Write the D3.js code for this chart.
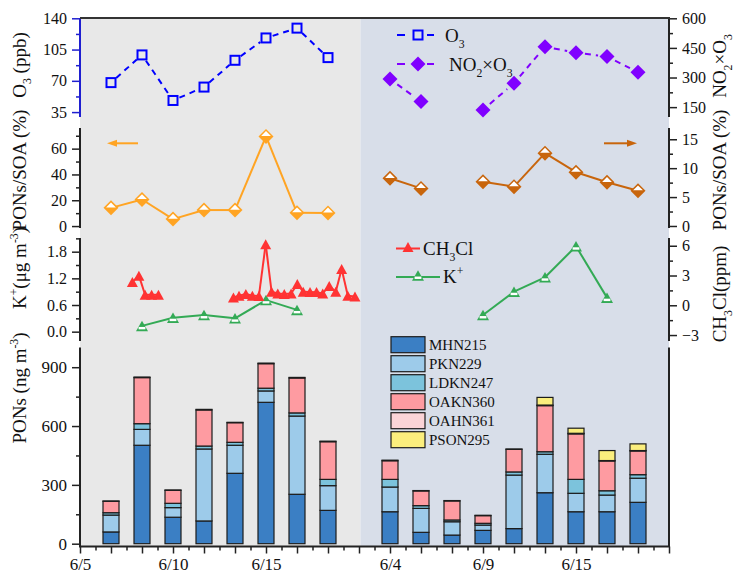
<!DOCTYPE html>
<html>
<head>
<meta charset="utf-8">
<script src="https://cdn.jsdelivr.net/npm/d3@7"></script>
<style>
  body { margin: 0; background: #fff; }
  svg text, svg tspan { font-family: "Liberation Serif", "Times New Roman", "DejaVu Serif", serif !important; fill: #111; }
</style>
</head>
<body>
<svg id="chart" width="734" height="574" font-family="Liberation Serif, serif"></svg>
<script>
// ---- x axis (sampling slots; two campaigns side by side) ----
const tickPos = [0, 3, 6, 10, 13, 16];
const tickLabels = ["6/5", "6/10", "6/15", "6/4", "6/9", "6/15"];

// ---- panel 1: O3 (left campaign) and NO2×O3 (right campaign) ----
const o3Pos = [1, 2, 3, 4, 5, 6, 7, 8];
const o3 = [68, 99, 48, 63, 93, 118, 129, 96];
const no2o3Pos = [10, 11, 13, 14, 15, 16, 17, 18];
const no2o3 = [292, 178, 136, 271, 456, 426, 406, 327];

// ---- panel 2: PONs/SOA (%) ----
const ratioLeftPos = [1, 2, 3, 4, 5, 6, 7, 8];
const ratioLeft = [14.1, 20.6, 5.4, 12.4, 12.4, 69.5, 10.3, 10.2];
const ratioRightPos = [10, 11, 13, 14, 15, 16, 17, 18];
const ratioRight = [8.25, 6.5, 7.66, 6.8, 12.6, 9.3, 7.56, 6.1];

// ---- panel 3: CH3Cl (high-resolution) and K+ ----
const ch3clPosA = [1.69, 1.9, 2.1, 2.31, 2.53];
const ch3clA = [1.12, 1.26, 0.83, 0.83, 0.83];
const ch3clPosB = [4.95, 5.13, 5.35, 5.56, 5.77, 5.99, 6.18, 6.38, 6.59, 6.81,
                   7.01, 7.2, 7.42, 7.63, 7.83, 8.04, 8.25, 8.44, 8.64, 8.87];
const ch3clB = [0.77, 0.81, 0.85, 0.81, 0.80, 1.97, 0.90, 0.86, 0.85, 0.86,
                1.07, 0.90, 0.89, 0.89, 0.86, 1.03, 0.90, 1.41, 0.81, 0.79];
const kLeftPos = [2, 3, 4, 5, 6, 7];
const kLeft = [0.13, 0.315, 0.375, 0.30, 0.71, 0.49];
const kRightPos = [13, 14, 15, 16, 17];
const kRight = [-0.98, 1.37, 2.82, 5.95, 0.77];

// ---- panel 4: PONs species (ng m-3), stacked ----
const barPos = [1, 2, 3, 4, 5, 6, 7, 8, 10, 11, 12, 13, 14, 15, 16, 17, 18];
const speciesNames = ["MHN215", "PKN229", "LDKN247", "OAKN360", "OAHN361", "PSON295"];
const MHN215  = [60, 502, 135, 116, 359, 721, 252, 170, 163, 58, 44, 68, 77, 260, 163, 163, 211];
const PKN229  = [86, 81, 49, 367, 143, 58, 399, 126, 126, 122, 68, 27, 273, 196, 94, 85, 123];
const LDKN247 = [12, 29, 22, 15, 15, 14, 16, 32, 39, 14, 9, 9, 16, 13, 71, 22, 18];
const OAKN360 = [58, 235, 66, 184, 100, 125, 178, 192, 95, 75, 97, 39, 115, 235, 232, 152, 121];
const OAHN361 = [2, 3, 2, 3, 2, 3, 3, 3, 3, 2, 2, 2, 2, 3, 3, 2, 2];
const PSON295 = [0, 0, 0, 0, 0, 0, 0, 0, 0, 0, 0, 0, 0, 39, 26, 51, 34];
const speciesColors = ["#3b7fc4", "#9dcbea", "#7cc3dc", "#fe9ba1", "#fbd4d7", "#fbee7d"];

// ---------------------------------------------------------------
const FONT = "Liberation Serif, Times New Roman, serif";
const svg = d3.select("#chart");
const X0 = 80, X1 = 669, XMID = 360.5;
const x = d3.scaleLinear().domain([0, 19]).range([X0, X1]);

// panel y scales (range = axis extent)
const y1L = d3.scaleLinear().domain([29.5, 140]).range([117, 18.3]);
const y1R = d3.scaleLinear().domain([100, 600]).range([117, 18.3]);
const y2L = d3.scaleLinear().domain([-1.5, 76]).range([228, 128]);
const y2R = d3.scaleLinear().domain([-0.35, 16.95]).range([228, 128]);
const y3L = d3.scaleLinear().domain([-0.21, 2.108]).range([341, 238]);
const y3R = d3.scaleLinear().domain([-3.6, 6.78]).range([341, 238]);
const y4 = d3.scaleLinear().domain([0, 1000]).range([543.7, 347.6]);
const AXIS_BOTTOM = 546.5;

// backgrounds of the two campaigns
svg.append("rect").attr("x", X0).attr("y", 18).attr("width", XMID - X0)
   .attr("height", AXIS_BOTTOM - 18).attr("fill", "#e8e8e8");
svg.append("rect").attr("x", XMID).attr("y", 18).attr("width", X1 - XMID)
   .attr("height", AXIS_BOTTOM - 18).attr("fill", "#d8dee9");

// ---- helpers ----
function rich(sel, parts, size) {
  sel.attr("font-family", FONT);
  let shift = 0;
  parts.forEach(([txt, kind]) => {
    const target = kind === "sub" ? size * 0.3 : kind === "sup" ? -size * 0.4 : 0;
    sel.append("tspan").attr("dy", target - shift)
       .attr("font-size", kind ? size * 0.62 : size).text(txt);
    shift = target;
  });
  return sel;
}

function yAxis(scale, side, major, minor, color, fmt) {
  const xPos = side === "left" ? X0 : X1;
  const mk = side === "left" ? d3.axisLeft : d3.axisRight;
  const g = svg.append("g").attr("transform", `translate(${xPos},0)`);
  const gMin = g.append("g").call(mk(scale).tickValues(minor).tickSize(4).tickFormat(""));
  const gMaj = g.append("g").call(mk(scale).tickValues(major).tickSize(8).tickPadding(5)
                 .tickFormat(fmt || d3.format("")));
  [gMin, gMaj].forEach(s => {
    s.attr("font-family", FONT);
    s.select(".domain").remove();
    s.selectAll("line").attr("stroke", color).attr("stroke-width", 1.5);
    s.selectAll("text").attr("font-size", 16).attr("fill", "#111");
  });
  const r = scale.range();
  g.append("line").attr("class", "spine").attr("y1", r[0]).attr("y2", r[1])
   .attr("stroke", color).attr("stroke-width", 2);
  return g;
}

function title(cx, cy, parts, size) {
  const t = svg.append("text").attr("transform", `translate(${cx},${cy}) rotate(-90)`)
    .attr("text-anchor", "middle");
  rich(t, parts, size);
}

function pts(pos, vals, ys) { return pos.map((p, i) => ({ i: p, px: x(p), py: ys(vals[i]) })); }

// consecutive slot pairs only when step is given (missing samples leave a gap)
function segs(points, step) {
  const out = [];
  for (let k = 0; k < points.length - 1; k++) {
    if (step === undefined || Math.abs(points[k + 1].i - points[k].i - step) < 1e-6)
      out.push([points[k], points[k + 1]]);
  }
  return out;
}

function drawSegs(list, color, width, dash, gap) {
  list.forEach(([a, b]) => {
    const dx = b.px - a.px, dy = b.py - a.py, L = Math.hypot(dx, dy);
    const ux = dx / L, uy = dy / L, g = gap || 0;
    svg.append("line")
      .attr("x1", a.px + ux * g).attr("y1", a.py + uy * g)
      .attr("x2", b.px - ux * g).attr("y2", b.py - uy * g)
      .attr("stroke", color).attr("stroke-width", width)
      .attr("stroke-dasharray", dash || null);
  });
}

function square(cx, cy, color) {
  svg.append("rect").attr("x", cx - 4.5).attr("y", cy - 4.5).attr("width", 9).attr("height", 9)
     .attr("fill", "none").attr("stroke", color).attr("stroke-width", 2);
}
function diamond(cx, cy, color) {
  const r = 7.5;
  svg.append("path").attr("d", `M${cx},${cy - r}L${cx + r},${cy}L${cx},${cy + r}L${cx - r},${cy}Z`)
     .attr("fill", color);
}
function halfDiamond(cx, cy, color) {
  const r = 7.5;
  svg.append("path").attr("d", `M${cx},${cy - r}L${cx + r},${cy}L${cx},${cy + r}L${cx - r},${cy}Z`)
     .attr("fill", color);
  svg.append("path").attr("d", `M${cx},${cy - r + 2.2}L${cx + r - 2.6},${cy - 0.4}L${cx - r + 2.6},${cy - 0.4}Z`)
     .attr("fill", "#fff");
}
function triangle(cx, cy, color) {
  const w = 11, h = 10;
  svg.append("path").attr("d", `M${cx},${cy - h / 2}L${cx + w / 2},${cy + h / 2}L${cx - w / 2},${cy + h / 2}Z`)
     .attr("fill", color);
}
function halfTriangle(cx, cy, color) {
  const w = 12, h = 10.5;
  svg.append("path").attr("d", `M${cx},${cy - h / 2}L${cx + w / 2},${cy + h / 2}L${cx - w / 2},${cy + h / 2}Z`)
     .attr("fill", color);
  svg.append("rect").attr("x", cx - w / 2 + 2.6).attr("y", cy + h / 2 - 4.2)
     .attr("width", w - 5.2).attr("height", 2.4).attr("fill", "#fff");
}

// ---- panel 4: stacked bars ----
const rows = barPos.map((p, i) => ({
  pos: p, MHN215: MHN215[i], PKN229: PKN229[i], LDKN247: LDKN247[i],
  OAKN360: OAKN360[i], OAHN361: OAHN361[i], PSON295: PSON295[i]
}));
const stacked = d3.stack().keys(speciesNames)(rows);
const barW = 16;
stacked.forEach((layer, li) => {
  svg.append("g").selectAll("rect").data(layer.filter(d => d[1] - d[0] > 0)).join("rect")
    .attr("x", d => x(d.data.pos) - barW / 2)
    .attr("width", barW)
    .attr("y", d => y4(d[1]))
    .attr("height", d => y4(d[0]) - y4(d[1]))
    .attr("fill", speciesColors[li])
    .attr("stroke", "#1c1c1c").attr("stroke-width", 1.2);
});

// bar legend
speciesNames.forEach((n, i) => {
  const cy = 344.7 + i * 19;
  svg.append("rect").attr("x", 391).attr("y", cy - 8).attr("width", 34).attr("height", 16)
     .attr("fill", speciesColors[i]).attr("stroke", "#1c1c1c").attr("stroke-width", 1.2);
  svg.append("text").attr("x", 429).attr("y", cy + 5.5).attr("font-size", 15)
     .attr("font-family", FONT).text(n);
});

// ---- panel 1 ----
const o3Pts = pts(o3Pos, o3, y1L);
drawSegs(segs(o3Pts), "#0000ff", 2, "6,5", 7);
o3Pts.forEach(p => square(p.px, p.py, "#0000ff"));
const nPts = pts(no2o3Pos, no2o3, y1R);
drawSegs(segs(nPts, 1), "#8000ff", 2, "6,5", 9);
nPts.forEach(p => diamond(p.px, p.py, "#8000ff"));

// legend of panel 1
[[35, "#0000ff", "sq", [["O", null], ["3", "sub"]], 445],
 [64, "#8000ff", "di", [["NO", null], ["2", "sub"], ["×O", null], ["3", "sub"]], 449]]
  .forEach(([cy, c, m, parts, tx]) => {
    svg.append("line").attr("x1", 397).attr("x2", 405).attr("y1", cy).attr("y2", cy)
       .attr("stroke", c).attr("stroke-width", 2);
    svg.append("line").attr("x1", 427).attr("x2", 434).attr("y1", cy).attr("y2", cy)
       .attr("stroke", c).attr("stroke-width", 2);
    if (m === "sq") square(418, cy, c); else diamond(418, cy, c);
    rich(svg.append("text").attr("x", tx).attr("y", cy + 7), parts, 19);
  });

// ---- panel 2 ----
const orange = "#ffa423", brown = "#c8650c";
const rL = pts(ratioLeftPos, ratioLeft, y2L);
drawSegs(segs(rL), orange, 2);
rL.forEach(p => halfDiamond(p.px, p.py, orange));
const rR = pts(ratioRightPos, ratioRight, y2R);
drawSegs(segs(rR, 1), brown, 2);
rR.forEach(p => halfDiamond(p.px, p.py, brown));

// arrows pointing to the matching axis
function arrow(xa, xb, yy, color) {
  const dir = Math.sign(xb - xa);
  svg.append("line").attr("x1", xa).attr("x2", xb - dir * 8).attr("y1", yy).attr("y2", yy)
     .attr("stroke", color).attr("stroke-width", 2);
  svg.append("path").attr("d", `M${xb},${yy}L${xb - dir * 10},${yy - 3.5}L${xb - dir * 10},${yy + 3.5}Z`)
     .attr("fill", color);
}
arrow(138, 107, 143.3, orange);
arrow(604, 637, 143.3, brown);

// ---- panel 3 ----
const red = "#ff3333", green = "#33aa55";
const kL = pts(kLeftPos, kLeft, y3L);
drawSegs(segs(kL), green, 2);
const cA = pts(ch3clPosA, ch3clA, y3L), cB = pts(ch3clPosB, ch3clB, y3L);
drawSegs(segs(cA), red, 2);
drawSegs(segs(cB), red, 2);
kL.forEach(p => halfTriangle(p.px, p.py, green));
cA.concat(cB).forEach(p => triangle(p.px, p.py, red));
const kR = pts(kRightPos, kRight, y3R);
drawSegs(segs(kR), green, 2);
kR.forEach(p => halfTriangle(p.px, p.py, green));

// legend of panel 3
svg.append("line").attr("x1", 396).attr("x2", 420).attr("y1", 248.5).attr("y2", 248.5)
   .attr("stroke", red).attr("stroke-width", 2);
triangle(408, 247, red);
rich(svg.append("text").attr("x", 423).attr("y", 255), [["CH", null], ["3", "sub"], ["Cl", null]], 19);
svg.append("line").attr("x1", 396).attr("x2", 440).attr("y1", 277).attr("y2", 277)
   .attr("stroke", green).attr("stroke-width", 2);
halfTriangle(418, 275.5, green);
rich(svg.append("text").attr("x", 443).attr("y", 283), [["K", null], ["+", "sup"]], 19);

// ---- axes ----
const dark = "#222";
yAxis(y1L, "left", [35, 70, 105, 140], [52.5, 87.5, 122.5], "#1f1fd0");
yAxis(y1R, "right", [150, 300, 450, 600], [225, 375, 525], dark);
yAxis(y2L, "left", [0, 20, 40, 60], [10, 30, 50, 70], dark);
yAxis(y2R, "right", [0, 5, 10, 15], [2.5, 7.5, 12.5], dark);
yAxis(y3L, "left", [0, 0.6, 1.2, 1.8], [0.3, 0.9, 1.5, 2.1], dark, d3.format(".1f"));
yAxis(y3R, "right", [-3, 0, 3, 6], [-1.5, 1.5, 4.5], dark);
const g4 = yAxis(y4, "left", [0, 300, 600, 900], [150, 450, 750], dark);
g4.selectAll("text").attr("font-size", 17);
g4.select(".spine").attr("y1", AXIS_BOTTOM).attr("y2", 347.6);
svg.append("line").attr("x1", X1).attr("x2", X1).attr("y1", 347.6).attr("y2", AXIS_BOTTOM)
   .attr("stroke", dark).attr("stroke-width", 2);

// top frame line
svg.append("line").attr("x1", X0).attr("x2", X1 + 1).attr("y1", 18).attr("y2", 18)
   .attr("stroke", "#333").attr("stroke-width", 2);

// bottom axis
const gx = svg.append("g").attr("transform", `translate(0,${AXIS_BOTTOM})`);
const labelOf = new Map(tickPos.map((p, i) => [p, tickLabels[i]]));
const gxMin = gx.append("g").call(d3.axisBottom(x).tickValues(d3.range(0.5, 19, 1))
               .tickSize(4).tickFormat(""));
const gxMaj = gx.append("g").call(d3.axisBottom(x).tickValues(d3.range(0, 20, 1))
               .tickSize(7).tickPadding(4).tickFormat(d => labelOf.get(d) || ""));
[gxMin, gxMaj].forEach(s => {
  s.attr("font-family", FONT);
  s.select(".domain").remove();
  s.selectAll("line").attr("stroke", dark).attr("stroke-width", 1.5);
  s.selectAll("text").attr("font-size", 17).attr("fill", "#111");
});
gx.append("line").attr("x1", X0 - 1).attr("x2", X1 + 1).attr("stroke", dark).attr("stroke-width", 2);

// ---- axis titles ----
title(25.5, 65, [["O", null], ["3", "sub"], [" (ppb)", null]], 19);
title(25.5, 170, [["PONs/SOA (%)", null]], 19);
title(25.5, 268, [["K", null], ["+", "sup"], ["(μg m", null], ["-3", "sup"], [")", null]], 19);
title(25.5, 388, [["PONs (ng m", null], ["-3", "sup"], [")", null]], 19);
title(726, 66, [["NO", null], ["2", "sub"], ["×O", null], ["3", "sub"]], 19);
title(726, 170, [["PONs/SOA (%)", null]], 19);
title(726, 294, [["CH", null], ["3", "sub"], ["Cl(ppm)", null]], 19);
</script>
</body>
</html>
